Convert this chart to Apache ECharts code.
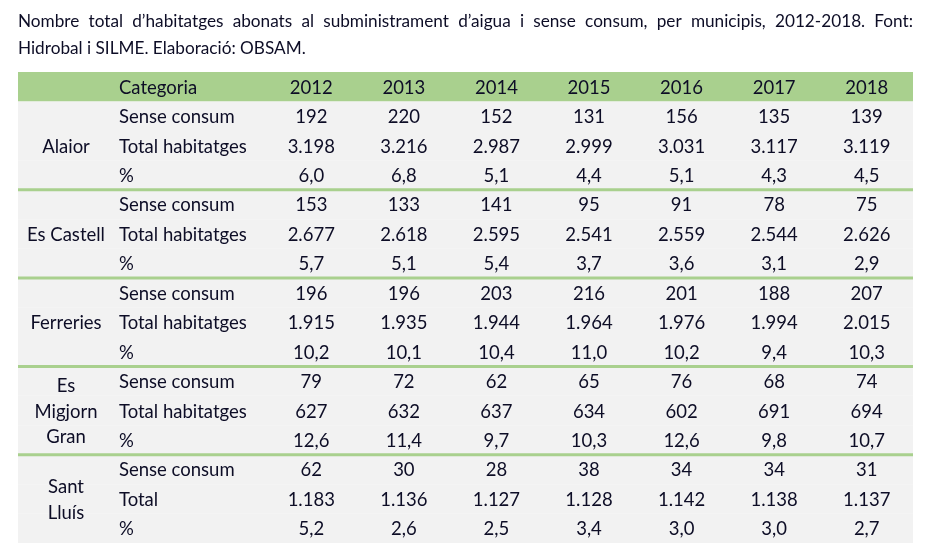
<!DOCTYPE html>
<html><head><meta charset="utf-8">
<script src="https://cdn.jsdelivr.net/npm/echarts@6/dist/echarts.min.js"></script>
<style>html,body{margin:0;padding:0;background:#fff}#c{width:926px;height:559px}</style>
</head><body><div id="c"></div>
<script>
var titleLine1 = "Nombre total d\u2019habitatges abonats al subministrament d\u2019aigua i sense consum, per municipis, 2012-2018. Font:";
var titleLine2 = "Hidrobal i SILME. Elaboraci\u00f3: OBSAM.";
var headerLabel = "Categoria";
var years = ["2012","2013","2014","2015","2016","2017","2018"];
var municipis = ["Alaior","Es Castell","Ferreries","Es\nMigjorn\nGran","Sant\nLlu\u00eds"];
var rowLabels = [
  ["Sense consum","Total habitatges","%"],
  ["Sense consum","Total habitatges","%"],
  ["Sense consum","Total habitatges","%"],
  ["Sense consum","Total habitatges","%"],
  ["Sense consum","Total","%"]
];
var senseConsum = [
  [192,220,152,131,156,135,139],
  [153,133,141,95,91,78,75],
  [196,196,203,216,201,188,207],
  [79,72,62,65,76,68,74],
  [62,30,28,38,34,34,31]
];
var totalHabitatges = [
  [3198,3216,2987,2999,3031,3117,3119],
  [2677,2618,2595,2541,2559,2544,2626],
  [1915,1935,1944,1964,1976,1994,2015],
  [627,632,637,634,602,691,694],
  [1183,1136,1127,1128,1142,1138,1137]
];
var percentatge = [
  [6.0,6.8,5.1,4.4,5.1,4.3,4.5],
  [5.7,5.1,5.4,3.7,3.6,3.1,2.9],
  [10.2,10.1,10.4,11.0,10.2,9.4,10.3],
  [12.6,11.4,9.7,10.3,12.6,9.8,10.7],
  [5.2,2.6,2.5,3.4,3.0,3.0,2.7]
];

var FONT = 'Lato';
var FS = 18.5;
var TXT = '#0d0d26';
var GREEN = '#a9d08e';
var GREY = '#f2f2f2';

function fmtInt(n){ return String(n).replace(/\B(?=(\d{3})+(?!\d))/g, '.'); }
function fmtPct(n){ return n.toFixed(1).replace('.', ','); }

var rows = ['header'];
var rowInfo = [{type:'header'}];
municipis.forEach(function(m, i){
  for (var k = 0; k < 3; k++) {
    rows.push('r' + rows.length);
    rowInfo.push({type:'body', mun:i, k:k});
  }
});

var bgData = rowInfo.map(function(r, i){ return [0, i]; });
var cellData = [];
years.forEach(function(y, c){ cellData.push([c, 0, y]); });
rowInfo.forEach(function(r, i){
  if (r.type !== 'body') return;
  var src = r.k === 0 ? senseConsum : (r.k === 1 ? totalHabitatges : percentatge);
  src[r.mun].forEach(function(v, c){
    cellData.push([c, i, r.k === 2 ? fmtPct(v) : fmtInt(v)]);
  });
});

// justified title line 1 using canvas measurement
var cv = document.createElement('canvas').getContext('2d');
var TFS = 17.2;
cv.font = TFS + 'px ' + FONT;
var words = titleLine1.split(' ');
var wW = words.map(function(w){ return cv.measureText(w).width; });
var totalW = wW.reduce(function(a,b){return a+b;}, 0);
var L = 18, R = 913;
var gap = (R - L - totalW) / (words.length - 1);
var titleEls = [];
var xx = L;
words.forEach(function(w, i){
  titleEls.push({type:'text', x: xx, y: 21, style:{text:w, font: TFS + 'px ' + FONT, fill: TXT, verticalAlign:'middle', textAlign:'left'}});
  xx += wW[i] + gap;
});
titleEls.push({type:'text', x: L, y: 48, style:{text:titleLine2, font: TFS + 'px ' + FONT, fill: TXT, verticalAlign:'middle', textAlign:'left'}});

var chart = echarts.init(document.getElementById('c'), null, {renderer:'canvas'});
chart.setOption({
  animation: false,
  graphic: titleEls,
  grid: [
    {left: 18, right: 13, top: 72, bottom: 16},
    {left: 265, right: 13, top: 72, bottom: 16}
  ],
  xAxis: [
    {gridIndex:0, type:'value', min:0, max:1, show:false},
    {gridIndex:1, type:'category', data: years, show:false}
  ],
  yAxis: [
    {gridIndex:0, type:'category', data: rows, inverse:true, show:false},
    {gridIndex:1, type:'category', data: rows, inverse:true, show:false}
  ],
  series: [
    {
      type:'custom', xAxisIndex:0, yAxisIndex:0, data: bgData, silent:true,
      renderItem: function(params, api){
        var i = api.value(1);
        var cs = params.coordSys;
        var p = api.coord([0, i]);
        var h = api.size([0, 1])[1];
        var top = p[1] - h/2;
        var info = rowInfo[i];
        var children = [];
        children.push({type:'rect', z2: 0, shape:{x:cs.x, y:top, width:cs.width, height:h},
          style:{fill: info.type === 'header' ? GREEN : GREY}});
        var label = info.type === 'header' ? headerLabel : rowLabels[info.mun][info.k];
        children.push({type:'text', z2: 20, x: cs.x + 101, y: p[1] + 1,
          style:{text: label, font: FS + 'px ' + FONT, fill: TXT, textAlign:'left', verticalAlign:'middle'}});
        if (info.type === 'body' && info.k === 1) {
          children.push({type:'text', z2: 20, x: cs.x + 48, y: p[1] + 1,
            style:{text: municipis[info.mun], font: FS + 'px ' + FONT, fill: TXT, textAlign:'center', verticalAlign:'middle', lineHeight: 25.5}});
        }
        if (info.type === 'body' && info.k === 2 && info.mun < municipis.length - 1) {
          children.push({type:'line', z2: 10, shape:{x1:cs.x, y1:top + h, x2:cs.x + cs.width, y2:top + h},
            style:{stroke: GREEN, lineWidth: 3}});
        }
        return {type:'group', children: children};
      }
    },
    {
      type:'custom', xAxisIndex:1, yAxisIndex:1, data: cellData, silent:true, z: 3,
      renderItem: function(params, api){
        var p = api.coord([api.value(0), api.value(1)]);
        return {type:'text', x: p[0], y: p[1] + 1,
          style:{text: cellData[params.dataIndex][2], font: FS + 'px ' + FONT, fill: TXT, textAlign:'center', verticalAlign:'middle'}};
      }
    }
  ]
});
</script></body></html>
